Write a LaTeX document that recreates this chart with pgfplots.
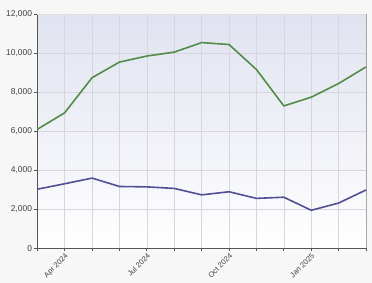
\documentclass[border=0pt]{standalone}
\usepackage{pgfplots}
\pgfplotsset{compat=1.18}
\usepackage{fontspec}
\setmainfont{Liberation Sans}
\definecolor{bgtop}{RGB}{224,227,240}
\definecolor{gridc}{RGB}{214,214,220}
\definecolor{axc}{RGB}{85,85,85}
\definecolor{lgreen}{RGB}{82,140,72}
\definecolor{lblue}{RGB}{84,78,148}
\definecolor{outer}{RGB}{247,247,247}
\begin{document}
\begin{tikzpicture}[x=1bp,y=1bp]
\fill[outer] (0,0) rectangle (372,283);
\useasboundingbox (0,0) rectangle (372,283);
\begin{axis}[
  at={(37.3bp,34.7bp)}, anchor=south west,
  scale only axis, width=328.7bp, height=234bp,
  xmin=0, xmax=12, ymin=0, ymax=12000,
  axis background/.style={shade, top color=bgtop, bottom color=white},
  axis x line*=bottom, axis y line*=left,
  axis line style={axc, line width=1.2bp},
  xtick={0,...,12},
  xticklabels={,Apr 2024,,,Jul 2024,,,Oct 2024,,,Jan 2025,,},
  ytick={0,2000,...,12000},
  scaled y ticks=false,
  /pgf/number format/fixed,
  /pgf/number format/1000 sep={,},
  /pgf/number format/assume math mode=true,
  x tick label style={rotate=45, anchor=north east, font=\fontsize{7.5}{8}\selectfont, text=black!75, inner sep=1bp},
  y tick label style={font=\fontsize{8.5}{9}\selectfont, text=black!75, inner sep=2bp},
  tick align=outside, major tick length=3bp,
  tick style={axc, line width=0.8bp},
  grid=major, major grid style={gridc, line width=0.6bp},
  clip=false,
]
\draw[gray!70, line width=1bp] (axis cs:12,0) -- (axis cs:12,12000);
\draw[gray!25, line width=0.6bp] (axis cs:0,12000) -- (axis cs:12,12000);
\addplot[lgreen, line width=1.6bp, line join=round] coordinates {
(0,6100) (1,6950) (2,8750) (3,9550) (4,9860) (5,10060) (6,10550) (7,10450) (8,9170) (9,7300) (10,7750) (11,8450) (12,9300)};
\addplot[lblue, line width=1.6bp, line join=round] coordinates {
(0,3030) (1,3310) (2,3600) (3,3170) (4,3150) (5,3070) (6,2740) (7,2900) (8,2560) (9,2620) (10,1950) (11,2320) (12,2990)};
\end{axis}
\end{tikzpicture}
\end{document}
